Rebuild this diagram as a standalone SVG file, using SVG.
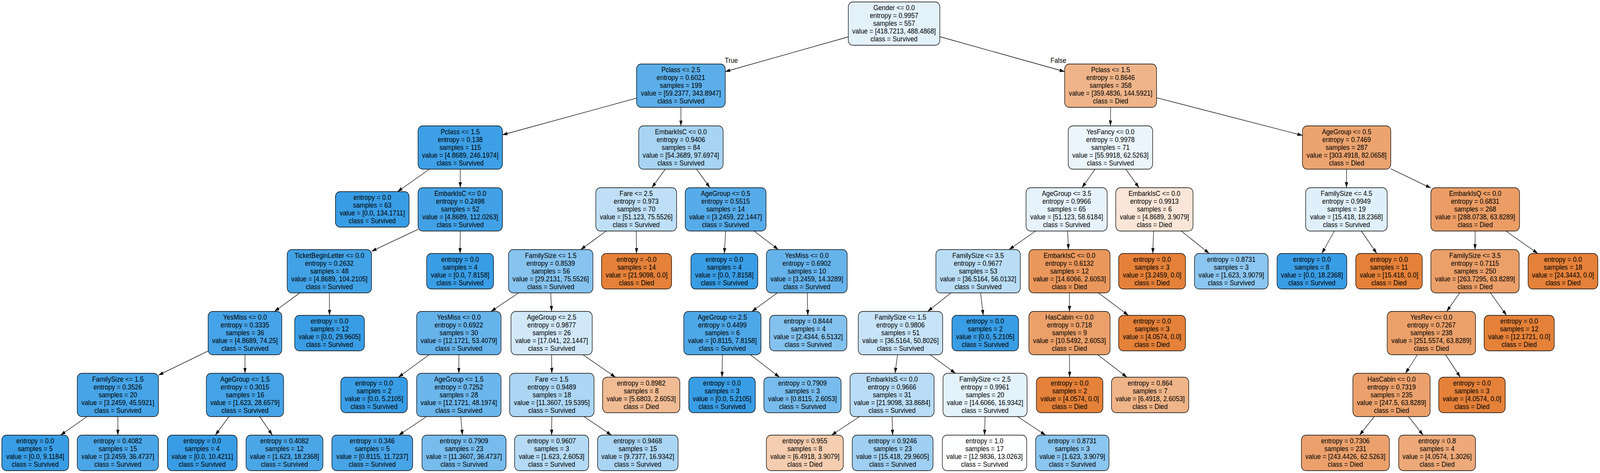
<svg xmlns="http://www.w3.org/2000/svg" width="4474" height="1212" viewBox="0 0 4474 1212" preserveAspectRatio="none" style="width:100%;height:100%">
<style>
.n rect{stroke:#000;stroke-width:1.4}
text{font-family:"Liberation Sans",Helvetica,Arial,sans-serif;font-size:18px;text-anchor:middle;fill:#000}
.e line{stroke:#000;stroke-width:1.3;marker-end:url(#arr)}
</style>
<defs>
<marker id="arr" markerUnits="userSpaceOnUse" markerWidth="14" markerHeight="9" refX="14" refY="4.5" orient="auto"><path d="M0,0 L14,4.5 L0,9 z" fill="#000"/></marker>
</defs>
<rect width="4474" height="1212" fill="#fff"/>
<g id="edges" class="e">
<line x1="2372" y1="94.5" x2="2028" y2="183.5"/>
<line x1="2628" y1="94" x2="2977" y2="183.5"/>
<line x1="1780" y1="251.4" x2="1405" y2="345.5"/>
<line x1="1904" y1="275" x2="1904" y2="322.5"/>
<line x1="1200.9" y1="433.5" x2="1111.6" y2="491"/>
<line x1="1287" y1="433.5" x2="1287" y2="481"/>
<line x1="1169" y1="587.6" x2="1039" y2="643.9"/>
<line x1="1287" y1="592" x2="1286.5" y2="649.5"/>
<line x1="838.4" y1="750.5" x2="767.6" y2="798"/>
<line x1="921" y1="750.5" x2="921.5" y2="808"/>
<line x1="582" y1="899.4" x2="443" y2="961.4"/>
<line x1="685" y1="909" x2="685" y2="956.5"/>
<line x1="243.2" y1="1067.5" x2="169.3" y2="1115"/>
<line x1="329.5" y1="1067.5" x2="329.5" y2="1115"/>
<line x1="640.3" y1="1067.5" x2="602.1" y2="1115"/>
<line x1="726.3" y1="1067.5" x2="761.6" y2="1115"/>
<line x1="1860.2" y1="433.5" x2="1822.8" y2="481"/>
<line x1="1947.8" y1="433.5" x2="1985.2" y2="481"/>
<line x1="1695.3" y1="592" x2="1623.7" y2="639.5"/>
<line x1="1779" y1="592" x2="1780" y2="649.5"/>
<line x1="1450" y1="750.5" x2="1373" y2="798"/>
<line x1="1540" y1="750.5" x2="1542.5" y2="798"/>
<line x1="1200" y1="909" x2="1114" y2="966.5"/>
<line x1="1283" y1="909" x2="1283" y2="956.5"/>
<line x1="1192.6" y1="1067.5" x2="1115.1" y2="1115"/>
<line x1="1288.4" y1="1067.5" x2="1293.1" y2="1115"/>
<line x1="1542.5" y1="909" x2="1543" y2="956.5"/>
<line x1="1630.2" y1="909" x2="1721.1" y2="966.5"/>
<line x1="1543" y1="1067.5" x2="1542.5" y2="1115"/>
<line x1="1632.9" y1="1067.5" x2="1709.8" y2="1115"/>
<line x1="2029" y1="592" x2="2025.5" y2="649.5"/>
<line x1="2108.5" y1="592" x2="2176.5" y2="639.5"/>
<line x1="2173.4" y1="750.5" x2="2102.6" y2="798"/>
<line x1="2257.4" y1="750.5" x2="2258.9" y2="808"/>
<line x1="2020" y1="909" x2="2019" y2="966.5"/>
<line x1="2098.4" y1="909" x2="2179.7" y2="966.5"/>
<line x1="3105.5" y1="275" x2="3105" y2="322.5"/>
<line x1="3234" y1="250.4" x2="3642" y2="347"/>
<line x1="3062.1" y1="433.5" x2="3025.4" y2="481"/>
<line x1="3148.1" y1="433.5" x2="3184.9" y2="481"/>
<line x1="2895.8" y1="592" x2="2821.7" y2="639.5"/>
<line x1="2985.3" y1="592" x2="2987.7" y2="639.5"/>
<line x1="2659" y1="750.5" x2="2594" y2="798"/>
<line x1="2742" y1="750.5" x2="2749.3" y2="808"/>
<line x1="2509.8" y1="909" x2="2502.7" y2="956.5"/>
<line x1="2600.8" y1="909" x2="2671.7" y2="956.5"/>
<line x1="2403.3" y1="1067.5" x2="2325.3" y2="1115"/>
<line x1="2494.5" y1="1067.5" x2="2496" y2="1115"/>
<line x1="2754.5" y1="1067.5" x2="2753" y2="1115"/>
<line x1="2845.7" y1="1067.5" x2="2923.7" y2="1115"/>
<line x1="2990.5" y1="750.5" x2="2990.5" y2="798"/>
<line x1="3071.4" y1="750.5" x2="3155.2" y2="808"/>
<line x1="2990.5" y1="909" x2="2991" y2="966.5"/>
<line x1="3069.5" y1="909" x2="3151.3" y2="966.5"/>
<line x1="3225.7" y1="592" x2="3223.4" y2="649.5"/>
<line x1="3303.3" y1="592" x2="3381.3" y2="649.5"/>
<line x1="3765.5" y1="433.5" x2="3765" y2="481"/>
<line x1="3889" y1="432.4" x2="4001" y2="481.8"/>
<line x1="3731.2" y1="592" x2="3696.2" y2="649.5"/>
<line x1="3806.7" y1="592" x2="3849.8" y2="649.5"/>
<line x1="4125" y1="592" x2="4124.5" y2="639.5"/>
<line x1="4211" y1="592" x2="4300" y2="649.5"/>
<line x1="4081.8" y1="750.5" x2="4045.2" y2="798"/>
<line x1="4167.7" y1="750.5" x2="4212.5" y2="808"/>
<line x1="3963.5" y1="909" x2="3930" y2="956.5"/>
<line x1="4042.2" y1="909" x2="4083.4" y2="966.5"/>
<line x1="3842.8" y1="1067.5" x2="3801.5" y2="1115"/>
<line x1="3938.7" y1="1067.5" x2="3979.4" y2="1115"/>
<text x="2045" y="161.5">True</text>
<text x="2959.5" y="161">False</text>
</g>
<g id="n0" class="n"><rect x="2372" y="5" width="256" height="111" rx="13" fill="#e3f1fb"/><text x="2500" y="26.5"><tspan x="2500">Gender &lt;= 0.0</tspan><tspan x="2500" dy="20">entropy = 0.9957</tspan><tspan x="2500" dy="20">samples = 557</tspan><tspan x="2500" dy="20">value = [418.7213, 488.4868]</tspan><tspan x="2500" dy="20">class = Survived</tspan></text></g>
<g id="n1" class="n"><rect x="1780" y="164" width="248" height="111" rx="13" fill="#5baee9"/><text x="1904" y="185.5"><tspan x="1904">Pclass &lt;= 2.5</tspan><tspan x="1904" dy="20">entropy = 0.6021</tspan><tspan x="1904" dy="20">samples = 199</tspan><tspan x="1904" dy="20">value = [59.2377, 343.8947]</tspan><tspan x="1904" dy="20">class = Survived</tspan></text></g>
<g id="n2" class="n"><rect x="1169" y="322.5" width="236" height="111" rx="13" fill="#3d9fe6"/><text x="1287" y="344"><tspan x="1287">Pclass &lt;= 1.5</tspan><tspan x="1287" dy="20">entropy = 0.138</tspan><tspan x="1287" dy="20">samples = 115</tspan><tspan x="1287" dy="20">value = [4.8689, 246.1974]</tspan><tspan x="1287" dy="20">class = Survived</tspan></text></g>
<g id="n3" class="n"><rect x="938" y="491" width="206" height="91" rx="13" fill="#399de5"/><text x="1041" y="512.5"><tspan x="1041">entropy = 0.0</tspan><tspan x="1041" dy="20">samples = 63</tspan><tspan x="1041" dy="20">value = [0.0, 134.1711]</tspan><tspan x="1041" dy="20">class = Survived</tspan></text></g>
<g id="n4" class="n"><rect x="1169" y="481" width="236" height="111" rx="13" fill="#42a1e6"/><text x="1287" y="502.5"><tspan x="1287">EmbarkIsC &lt;= 0.0</tspan><tspan x="1287" dy="20">entropy = 0.2498</tspan><tspan x="1287" dy="20">samples = 52</tspan><tspan x="1287" dy="20">value = [4.8689, 112.0263]</tspan><tspan x="1287" dy="20">class = Survived</tspan></text></g>
<g id="n5" class="n"><rect x="803" y="639.5" width="236" height="111" rx="13" fill="#42a2e6"/><text x="921" y="661"><tspan x="921">TicketBeginLetter &lt;= 0.0</tspan><tspan x="921" dy="20">entropy = 0.2632</tspan><tspan x="921" dy="20">samples = 48</tspan><tspan x="921" dy="20">value = [4.8689, 104.2105]</tspan><tspan x="921" dy="20">class = Survived</tspan></text></g>
<g id="n6" class="n"><rect x="582" y="798" width="206" height="111" rx="13" fill="#46a3e7"/><text x="685" y="819.5"><tspan x="685">YesMiss &lt;= 0.0</tspan><tspan x="685" dy="20">entropy = 0.3335</tspan><tspan x="685" dy="20">samples = 36</tspan><tspan x="685" dy="20">value = [4.8689, 74.25]</tspan><tspan x="685" dy="20">class = Survived</tspan></text></g>
<g id="n7" class="n"><rect x="216" y="956.5" width="227" height="111" rx="13" fill="#47a4e7"/><text x="329.5" y="978"><tspan x="329.5">FamilySize &lt;= 1.5</tspan><tspan x="329.5" dy="20">entropy = 0.3526</tspan><tspan x="329.5" dy="20">samples = 20</tspan><tspan x="329.5" dy="20">value = [3.2459, 45.5921]</tspan><tspan x="329.5" dy="20">class = Survived</tspan></text></g>
<g id="n8" class="n"><rect x="5" y="1115" width="187" height="91" rx="13" fill="#399de5"/><text x="98.5" y="1136.5"><tspan x="98.5">entropy = 0.0</tspan><tspan x="98.5" dy="20">samples = 5</tspan><tspan x="98.5" dy="20">value = [0.0, 9.1184]</tspan><tspan x="98.5" dy="20">class = Survived</tspan></text></g>
<g id="n9" class="n"><rect x="216" y="1115" width="227" height="91" rx="13" fill="#4ba6e7"/><text x="329.5" y="1136.5"><tspan x="329.5">entropy = 0.4082</tspan><tspan x="329.5" dy="20">samples = 15</tspan><tspan x="329.5" dy="20">value = [3.2459, 36.4737]</tspan><tspan x="329.5" dy="20">class = Survived</tspan></text></g>
<g id="n10" class="n"><rect x="577" y="956.5" width="216" height="111" rx="13" fill="#44a3e6"/><text x="685" y="978"><tspan x="685">AgeGroup &lt;= 1.5</tspan><tspan x="685" dy="20">entropy = 0.3015</tspan><tspan x="685" dy="20">samples = 16</tspan><tspan x="685" dy="20">value = [1.623, 28.6579]</tspan><tspan x="685" dy="20">class = Survived</tspan></text></g>
<g id="n11" class="n"><rect x="468" y="1115" width="195" height="91" rx="13" fill="#399de5"/><text x="565.5" y="1136.5"><tspan x="565.5">entropy = 0.0</tspan><tspan x="565.5" dy="20">samples = 4</tspan><tspan x="565.5" dy="20">value = [0.0, 10.4211]</tspan><tspan x="565.5" dy="20">class = Survived</tspan></text></g>
<g id="n12" class="n"><rect x="688" y="1115" width="215" height="91" rx="13" fill="#4ba6e7"/><text x="795.5" y="1136.5"><tspan x="795.5">entropy = 0.4082</tspan><tspan x="795.5" dy="20">samples = 12</tspan><tspan x="795.5" dy="20">value = [1.623, 18.2368]</tspan><tspan x="795.5" dy="20">class = Survived</tspan></text></g>
<g id="n13" class="n"><rect x="824" y="808" width="195" height="91" rx="13" fill="#399de5"/><text x="921.5" y="829.5"><tspan x="921.5">entropy = 0.0</tspan><tspan x="921.5" dy="20">samples = 12</tspan><tspan x="921.5" dy="20">value = [0.0, 29.9605]</tspan><tspan x="921.5" dy="20">class = Survived</tspan></text></g>
<g id="n14" class="n"><rect x="1193" y="649.5" width="187" height="91" rx="13" fill="#399de5"/><text x="1286.5" y="671"><tspan x="1286.5">entropy = 0.0</tspan><tspan x="1286.5" dy="20">samples = 4</tspan><tspan x="1286.5" dy="20">value = [0.0, 7.8158]</tspan><tspan x="1286.5" dy="20">class = Survived</tspan></text></g>
<g id="n15" class="n"><rect x="1786" y="322.5" width="236" height="111" rx="13" fill="#a7d4f3"/><text x="1904" y="344"><tspan x="1904">EmbarkIsC &lt;= 0.0</tspan><tspan x="1904" dy="20">entropy = 0.9406</tspan><tspan x="1904" dy="20">samples = 84</tspan><tspan x="1904" dy="20">value = [54.3689, 97.6974]</tspan><tspan x="1904" dy="20">class = Survived</tspan></text></g>
<g id="n16" class="n"><rect x="1666" y="481" width="226" height="111" rx="13" fill="#bfdff7"/><text x="1779" y="502.5"><tspan x="1779">Fare &lt;= 2.5</tspan><tspan x="1779" dy="20">entropy = 0.973</tspan><tspan x="1779" dy="20">samples = 70</tspan><tspan x="1779" dy="20">value = [51.123, 75.5526]</tspan><tspan x="1779" dy="20">class = Survived</tspan></text></g>
<g id="n17" class="n"><rect x="1422" y="639.5" width="236" height="111" rx="13" fill="#86c3ef"/><text x="1540" y="661"><tspan x="1540">FamilySize &lt;= 1.5</tspan><tspan x="1540" dy="20">entropy = 0.8539</tspan><tspan x="1540" dy="20">samples = 56</tspan><tspan x="1540" dy="20">value = [29.2131, 75.5526]</tspan><tspan x="1540" dy="20">class = Survived</tspan></text></g>
<g id="n18" class="n"><rect x="1165" y="798" width="236" height="111" rx="13" fill="#66b3eb"/><text x="1283" y="819.5"><tspan x="1283">YesMiss &lt;= 0.0</tspan><tspan x="1283" dy="20">entropy = 0.6922</tspan><tspan x="1283" dy="20">samples = 30</tspan><tspan x="1283" dy="20">value = [12.1721, 53.4079]</tspan><tspan x="1283" dy="20">class = Survived</tspan></text></g>
<g id="n19" class="n"><rect x="953" y="966.5" width="186" height="91" rx="13" fill="#399de5"/><text x="1046" y="988"><tspan x="1046">entropy = 0.0</tspan><tspan x="1046" dy="20">samples = 2</tspan><tspan x="1046" dy="20">value = [0.0, 5.2105]</tspan><tspan x="1046" dy="20">class = Survived</tspan></text></g>
<g id="n20" class="n"><rect x="1165" y="956.5" width="236" height="111" rx="13" fill="#6bb6ec"/><text x="1283" y="978"><tspan x="1283">AgeGroup &lt;= 1.5</tspan><tspan x="1283" dy="20">entropy = 0.7252</tspan><tspan x="1283" dy="20">samples = 28</tspan><tspan x="1283" dy="20">value = [12.1721, 48.1974]</tspan><tspan x="1283" dy="20">class = Survived</tspan></text></g>
<g id="n21" class="n"><rect x="928" y="1115" width="226" height="91" rx="13" fill="#47a4e7"/><text x="1041" y="1136.5"><tspan x="1041">entropy = 0.346</tspan><tspan x="1041" dy="20">samples = 5</tspan><tspan x="1041" dy="20">value = [0.8115, 11.7237]</tspan><tspan x="1041" dy="20">class = Survived</tspan></text></g>
<g id="n22" class="n"><rect x="1180" y="1115" width="235" height="91" rx="13" fill="#77bced"/><text x="1297.5" y="1136.5"><tspan x="1297.5">entropy = 0.7909</tspan><tspan x="1297.5" dy="20">samples = 23</tspan><tspan x="1297.5" dy="20">value = [11.3607, 36.4737]</tspan><tspan x="1297.5" dy="20">class = Survived</tspan></text></g>
<g id="n23" class="n"><rect x="1429" y="798" width="227" height="111" rx="13" fill="#d1e8f9"/><text x="1542.5" y="819.5"><tspan x="1542.5">AgeGroup &lt;= 2.5</tspan><tspan x="1542.5" dy="20">entropy = 0.9877</tspan><tspan x="1542.5" dy="20">samples = 26</tspan><tspan x="1542.5" dy="20">value = [17.041, 22.1447]</tspan><tspan x="1542.5" dy="20">class = Survived</tspan></text></g>
<g id="n24" class="n"><rect x="1425" y="956.5" width="236" height="111" rx="13" fill="#acd6f4"/><text x="1543" y="978"><tspan x="1543">Fare &lt;= 1.5</tspan><tspan x="1543" dy="20">entropy = 0.9489</tspan><tspan x="1543" dy="20">samples = 18</tspan><tspan x="1543" dy="20">value = [11.3607, 19.5395]</tspan><tspan x="1543" dy="20">class = Survived</tspan></text></g>
<g id="n25" class="n"><rect x="1439" y="1115" width="207" height="91" rx="13" fill="#b4daf5"/><text x="1542.5" y="1136.5"><tspan x="1542.5">entropy = 0.9607</tspan><tspan x="1542.5" dy="20">samples = 3</tspan><tspan x="1542.5" dy="20">value = [1.623, 2.6053]</tspan><tspan x="1542.5" dy="20">class = Survived</tspan></text></g>
<g id="n26" class="n"><rect x="1671" y="1115" width="225" height="91" rx="13" fill="#abd5f4"/><text x="1783.5" y="1136.5"><tspan x="1783.5">entropy = 0.9468</tspan><tspan x="1783.5" dy="20">samples = 15</tspan><tspan x="1783.5" dy="20">value = [9.7377, 16.9342]</tspan><tspan x="1783.5" dy="20">class = Survived</tspan></text></g>
<g id="n27" class="n"><rect x="1685" y="966.5" width="216" height="91" rx="13" fill="#f1bb94"/><text x="1793" y="988"><tspan x="1793">entropy = 0.8982</tspan><tspan x="1793" dy="20">samples = 8</tspan><tspan x="1793" dy="20">value = [5.6803, 2.6053]</tspan><tspan x="1793" dy="20">class = Died</tspan></text></g>
<g id="n28" class="n"><rect x="1682" y="649.5" width="196" height="91" rx="13" fill="#e58139"/><text x="1780" y="671"><tspan x="1780">entropy = -0.0</tspan><tspan x="1780" dy="20">samples = 14</tspan><tspan x="1780" dy="20">value = [21.9098, 0.0]</tspan><tspan x="1780" dy="20">class = Died</tspan></text></g>
<g id="n29" class="n"><rect x="1916" y="481" width="226" height="111" rx="13" fill="#56abe9"/><text x="2029" y="502.5"><tspan x="2029">AgeGroup &lt;= 0.5</tspan><tspan x="2029" dy="20">entropy = 0.5515</tspan><tspan x="2029" dy="20">samples = 14</tspan><tspan x="2029" dy="20">value = [3.2459, 22.1447]</tspan><tspan x="2029" dy="20">class = Survived</tspan></text></g>
<g id="n30" class="n"><rect x="1932" y="649.5" width="187" height="91" rx="13" fill="#399de5"/><text x="2025.5" y="671"><tspan x="2025.5">entropy = 0.0</tspan><tspan x="2025.5" dy="20">samples = 4</tspan><tspan x="2025.5" dy="20">value = [0.0, 7.8158]</tspan><tspan x="2025.5" dy="20">class = Survived</tspan></text></g>
<g id="n31" class="n"><rect x="2143" y="639.5" width="226" height="111" rx="13" fill="#66b3eb"/><text x="2256" y="661"><tspan x="2256">YesMiss &lt;= 0.0</tspan><tspan x="2256" dy="20">entropy = 0.6902</tspan><tspan x="2256" dy="20">samples = 10</tspan><tspan x="2256" dy="20">value = [3.2459, 14.3289]</tspan><tspan x="2256" dy="20">class = Survived</tspan></text></g>
<g id="n32" class="n"><rect x="1912" y="798" width="216" height="111" rx="13" fill="#4ea7e8"/><text x="2020" y="819.5"><tspan x="2020">AgeGroup &lt;= 2.5</tspan><tspan x="2020" dy="20">entropy = 0.4499</tspan><tspan x="2020" dy="20">samples = 6</tspan><tspan x="2020" dy="20">value = [0.8115, 7.8158]</tspan><tspan x="2020" dy="20">class = Survived</tspan></text></g>
<g id="n33" class="n"><rect x="1926" y="966.5" width="186" height="91" rx="13" fill="#399de5"/><text x="2019" y="988"><tspan x="2019">entropy = 0.0</tspan><tspan x="2019" dy="20">samples = 3</tspan><tspan x="2019" dy="20">value = [0.0, 5.2105]</tspan><tspan x="2019" dy="20">class = Survived</tspan></text></g>
<g id="n34" class="n"><rect x="2136" y="966.5" width="216" height="91" rx="13" fill="#77bced"/><text x="2244" y="988"><tspan x="2244">entropy = 0.7909</tspan><tspan x="2244" dy="20">samples = 3</tspan><tspan x="2244" dy="20">value = [0.8115, 2.6053]</tspan><tspan x="2244" dy="20">class = Survived</tspan></text></g>
<g id="n35" class="n"><rect x="2152" y="808" width="216" height="91" rx="13" fill="#83c2ef"/><text x="2260" y="829.5"><tspan x="2260">entropy = 0.8444</tspan><tspan x="2260" dy="20">samples = 4</tspan><tspan x="2260" dy="20">value = [2.4344, 6.5132]</tspan><tspan x="2260" dy="20">class = Survived</tspan></text></g>
<g id="n36" class="n"><rect x="2977" y="164" width="257" height="111" rx="13" fill="#efb489"/><text x="3105.5" y="185.5"><tspan x="3105.5">Pclass &lt;= 1.5</tspan><tspan x="3105.5" dy="20">entropy = 0.8646</tspan><tspan x="3105.5" dy="20">samples = 358</tspan><tspan x="3105.5" dy="20">value = [359.4836, 144.5921]</tspan><tspan x="3105.5" dy="20">class = Died</tspan></text></g>
<g id="n37" class="n"><rect x="2987" y="322.5" width="236" height="111" rx="13" fill="#eaf5fc"/><text x="3105" y="344"><tspan x="3105">YesFancy &lt;= 0.0</tspan><tspan x="3105" dy="20">entropy = 0.9978</tspan><tspan x="3105" dy="20">samples = 71</tspan><tspan x="3105" dy="20">value = [55.9918, 62.5263]</tspan><tspan x="3105" dy="20">class = Survived</tspan></text></g>
<g id="n38" class="n"><rect x="2869" y="481" width="227" height="111" rx="13" fill="#e6f2fc"/><text x="2982.5" y="502.5"><tspan x="2982.5">AgeGroup &lt;= 3.5</tspan><tspan x="2982.5" dy="20">entropy = 0.9966</tspan><tspan x="2982.5" dy="20">samples = 65</tspan><tspan x="2982.5" dy="20">value = [51.123, 58.6184]</tspan><tspan x="2982.5" dy="20">class = Survived</tspan></text></g>
<g id="n39" class="n"><rect x="2617" y="639.5" width="236" height="111" rx="13" fill="#baddf6"/><text x="2735" y="661"><tspan x="2735">FamilySize &lt;= 3.5</tspan><tspan x="2735" dy="20">entropy = 0.9677</tspan><tspan x="2735" dy="20">samples = 53</tspan><tspan x="2735" dy="20">value = [36.5164, 56.0132]</tspan><tspan x="2735" dy="20">class = Survived</tspan></text></g>
<g id="n40" class="n"><rect x="2400" y="798" width="236" height="111" rx="13" fill="#c7e3f8"/><text x="2518" y="819.5"><tspan x="2518">FamilySize &lt;= 1.5</tspan><tspan x="2518" dy="20">entropy = 0.9806</tspan><tspan x="2518" dy="20">samples = 51</tspan><tspan x="2518" dy="20">value = [36.5164, 50.8026]</tspan><tspan x="2518" dy="20">class = Survived</tspan></text></g>
<g id="n41" class="n"><rect x="2377" y="956.5" width="235" height="111" rx="13" fill="#b9dcf6"/><text x="2494.5" y="978"><tspan x="2494.5">EmbarkIsS &lt;= 0.0</tspan><tspan x="2494.5" dy="20">entropy = 0.9666</tspan><tspan x="2494.5" dy="20">samples = 31</tspan><tspan x="2494.5" dy="20">value = [21.9098, 33.8684]</tspan><tspan x="2494.5" dy="20">class = Survived</tspan></text></g>
<g id="n42" class="n"><rect x="2143" y="1115" width="215" height="91" rx="13" fill="#f5cdb0"/><text x="2250.5" y="1136.5"><tspan x="2250.5">entropy = 0.955</tspan><tspan x="2250.5" dy="20">samples = 8</tspan><tspan x="2250.5" dy="20">value = [6.4918, 3.9079]</tspan><tspan x="2250.5" dy="20">class = Died</tspan></text></g>
<g id="n43" class="n"><rect x="2383" y="1115" width="226" height="91" rx="13" fill="#9fcff2"/><text x="2496" y="1136.5"><tspan x="2496">entropy = 0.9246</tspan><tspan x="2496" dy="20">samples = 23</tspan><tspan x="2496" dy="20">value = [15.418, 29.9605]</tspan><tspan x="2496" dy="20">class = Survived</tspan></text></g>
<g id="n44" class="n"><rect x="2637" y="956.5" width="235" height="111" rx="13" fill="#e4f2fb"/><text x="2754.5" y="978"><tspan x="2754.5">FamilySize &lt;= 2.5</tspan><tspan x="2754.5" dy="20">entropy = 0.9961</tspan><tspan x="2754.5" dy="20">samples = 20</tspan><tspan x="2754.5" dy="20">value = [14.6066, 16.9342]</tspan><tspan x="2754.5" dy="20">class = Survived</tspan></text></g>
<g id="n45" class="n"><rect x="2635" y="1115" width="236" height="91" rx="13" fill="#feffff"/><text x="2753" y="1136.5"><tspan x="2753">entropy = 1.0</tspan><tspan x="2753" dy="20">samples = 17</tspan><tspan x="2753" dy="20">value = [12.9836, 13.0263]</tspan><tspan x="2753" dy="20">class = Survived</tspan></text></g>
<g id="n46" class="n"><rect x="2896" y="1115" width="205" height="91" rx="13" fill="#8bc6f0"/><text x="2998.5" y="1136.5"><tspan x="2998.5">entropy = 0.8731</tspan><tspan x="2998.5" dy="20">samples = 3</tspan><tspan x="2998.5" dy="20">value = [1.623, 3.9079]</tspan><tspan x="2998.5" dy="20">class = Survived</tspan></text></g>
<g id="n47" class="n"><rect x="2662" y="808" width="186" height="91" rx="13" fill="#399de5"/><text x="2755" y="829.5"><tspan x="2755">entropy = 0.0</tspan><tspan x="2755" dy="20">samples = 2</tspan><tspan x="2755" dy="20">value = [0.0, 5.2105]</tspan><tspan x="2755" dy="20">class = Survived</tspan></text></g>
<g id="n48" class="n"><rect x="2877" y="639.5" width="227" height="111" rx="13" fill="#ea975c"/><text x="2990.5" y="661"><tspan x="2990.5">EmbarkIsC &lt;= 0.0</tspan><tspan x="2990.5" dy="20">entropy = 0.6132</tspan><tspan x="2990.5" dy="20">samples = 12</tspan><tspan x="2990.5" dy="20">value = [14.6066, 2.6053]</tspan><tspan x="2990.5" dy="20">class = Died</tspan></text></g>
<g id="n49" class="n"><rect x="2877" y="798" width="227" height="111" rx="13" fill="#eba06a"/><text x="2990.5" y="819.5"><tspan x="2990.5">HasCabin &lt;= 0.0</tspan><tspan x="2990.5" dy="20">entropy = 0.718</tspan><tspan x="2990.5" dy="20">samples = 9</tspan><tspan x="2990.5" dy="20">value = [10.5492, 2.6053]</tspan><tspan x="2990.5" dy="20">class = Died</tspan></text></g>
<g id="n50" class="n"><rect x="2898" y="966.5" width="186" height="91" rx="13" fill="#e58139"/><text x="2991" y="988"><tspan x="2991">entropy = 0.0</tspan><tspan x="2991" dy="20">samples = 2</tspan><tspan x="2991" dy="20">value = [4.0574, 0.0]</tspan><tspan x="2991" dy="20">class = Died</tspan></text></g>
<g id="n51" class="n"><rect x="3108" y="966.5" width="216" height="91" rx="13" fill="#efb488"/><text x="3216" y="988"><tspan x="3216">entropy = 0.864</tspan><tspan x="3216" dy="20">samples = 7</tspan><tspan x="3216" dy="20">value = [6.4918, 2.6053]</tspan><tspan x="3216" dy="20">class = Died</tspan></text></g>
<g id="n52" class="n"><rect x="3128" y="808" width="187" height="91" rx="13" fill="#e58139"/><text x="3221.5" y="829.5"><tspan x="3221.5">entropy = 0.0</tspan><tspan x="3221.5" dy="20">samples = 3</tspan><tspan x="3221.5" dy="20">value = [4.0574, 0.0]</tspan><tspan x="3221.5" dy="20">class = Died</tspan></text></g>
<g id="n53" class="n"><rect x="3120" y="481" width="216" height="111" rx="13" fill="#fae6d8"/><text x="3228" y="502.5"><tspan x="3228">EmbarkIsC &lt;= 0.0</tspan><tspan x="3228" dy="20">entropy = 0.9913</tspan><tspan x="3228" dy="20">samples = 6</tspan><tspan x="3228" dy="20">value = [4.8689, 3.9079]</tspan><tspan x="3228" dy="20">class = Died</tspan></text></g>
<g id="n54" class="n"><rect x="3128" y="649.5" width="187" height="91" rx="13" fill="#e58139"/><text x="3221.5" y="671"><tspan x="3221.5">entropy = 0.0</tspan><tspan x="3221.5" dy="20">samples = 3</tspan><tspan x="3221.5" dy="20">value = [3.2459, 0.0]</tspan><tspan x="3221.5" dy="20">class = Died</tspan></text></g>
<g id="n55" class="n"><rect x="3340" y="649.5" width="206" height="91" rx="13" fill="#8bc6f0"/><text x="3443" y="671"><tspan x="3443">entropy = 0.8731</tspan><tspan x="3443" dy="20">samples = 3</tspan><tspan x="3443" dy="20">value = [1.623, 3.9079]</tspan><tspan x="3443" dy="20">class = Survived</tspan></text></g>
<g id="n56" class="n"><rect x="3642" y="322.5" width="247" height="111" rx="13" fill="#eca36f"/><text x="3765.5" y="344"><tspan x="3765.5">AgeGroup &lt;= 0.5</tspan><tspan x="3765.5" dy="20">entropy = 0.7469</tspan><tspan x="3765.5" dy="20">samples = 287</tspan><tspan x="3765.5" dy="20">value = [303.4918, 82.0658]</tspan><tspan x="3765.5" dy="20">class = Died</tspan></text></g>
<g id="n57" class="n"><rect x="3651" y="481" width="228" height="111" rx="13" fill="#e0f0fb"/><text x="3765" y="502.5"><tspan x="3765">FamilySize &lt;= 4.5</tspan><tspan x="3765" dy="20">entropy = 0.9949</tspan><tspan x="3765" dy="20">samples = 19</tspan><tspan x="3765" dy="20">value = [15.418, 18.2368]</tspan><tspan x="3765" dy="20">class = Survived</tspan></text></g>
<g id="n58" class="n"><rect x="3571" y="649.5" width="195" height="91" rx="13" fill="#399de5"/><text x="3668.5" y="671"><tspan x="3668.5">entropy = 0.0</tspan><tspan x="3668.5" dy="20">samples = 8</tspan><tspan x="3668.5" dy="20">value = [0.0, 18.2368]</tspan><tspan x="3668.5" dy="20">class = Survived</tspan></text></g>
<g id="n59" class="n"><rect x="3791" y="649.5" width="186" height="91" rx="13" fill="#e58139"/><text x="3884" y="671"><tspan x="3884">entropy = 0.0</tspan><tspan x="3884" dy="20">samples = 11</tspan><tspan x="3884" dy="20">value = [15.418, 0.0]</tspan><tspan x="3884" dy="20">class = Died</tspan></text></g>
<g id="n60" class="n"><rect x="4001" y="481" width="248" height="111" rx="13" fill="#eb9d65"/><text x="4125" y="502.5"><tspan x="4125">EmbarkIsQ &lt;= 0.0</tspan><tspan x="4125" dy="20">entropy = 0.6831</tspan><tspan x="4125" dy="20">samples = 268</tspan><tspan x="4125" dy="20">value = [288.0738, 63.8289]</tspan><tspan x="4125" dy="20">class = Died</tspan></text></g>
<g id="n61" class="n"><rect x="4001" y="639.5" width="247" height="111" rx="13" fill="#eb9f69"/><text x="4124.5" y="661"><tspan x="4124.5">FamilySize &lt;= 3.5</tspan><tspan x="4124.5" dy="20">entropy = 0.7115</tspan><tspan x="4124.5" dy="20">samples = 250</tspan><tspan x="4124.5" dy="20">value = [263.7295, 63.8289]</tspan><tspan x="4124.5" dy="20">class = Died</tspan></text></g>
<g id="n62" class="n"><rect x="3879" y="798" width="247" height="111" rx="13" fill="#eca16b"/><text x="4002.5" y="819.5"><tspan x="4002.5">YesRev &lt;= 0.0</tspan><tspan x="4002.5" dy="20">entropy = 0.7267</tspan><tspan x="4002.5" dy="20">samples = 238</tspan><tspan x="4002.5" dy="20">value = [251.5574, 63.8289]</tspan><tspan x="4002.5" dy="20">class = Died</tspan></text></g>
<g id="n63" class="n"><rect x="3783" y="956.5" width="216" height="111" rx="13" fill="#eca16c"/><text x="3891" y="978"><tspan x="3891">HasCabin &lt;= 0.0</tspan><tspan x="3891" dy="20">entropy = 0.7319</tspan><tspan x="3891" dy="20">samples = 235</tspan><tspan x="3891" dy="20">value = [247.5, 63.8289]</tspan><tspan x="3891" dy="20">class = Died</tspan></text></g>
<g id="n64" class="n"><rect x="3639" y="1115" width="246" height="91" rx="13" fill="#eca16c"/><text x="3762" y="1136.5"><tspan x="3762">entropy = 0.7306</tspan><tspan x="3762" dy="20">samples = 231</tspan><tspan x="3762" dy="20">value = [243.4426, 62.5263]</tspan><tspan x="3762" dy="20">class = Died</tspan></text></g>
<g id="n65" class="n"><rect x="3911" y="1115" width="215" height="91" rx="13" fill="#eda979"/><text x="4018.5" y="1136.5"><tspan x="4018.5">entropy = 0.8</tspan><tspan x="4018.5" dy="20">samples = 4</tspan><tspan x="4018.5" dy="20">value = [4.0574, 1.3026]</tspan><tspan x="4018.5" dy="20">class = Died</tspan></text></g>
<g id="n66" class="n"><rect x="4023" y="966.5" width="186" height="91" rx="13" fill="#e58139"/><text x="4116" y="988"><tspan x="4116">entropy = 0.0</tspan><tspan x="4116" dy="20">samples = 3</tspan><tspan x="4116" dy="20">value = [4.0574, 0.0]</tspan><tspan x="4116" dy="20">class = Died</tspan></text></g>
<g id="n67" class="n"><rect x="4150" y="808" width="196" height="91" rx="13" fill="#e58139"/><text x="4248" y="829.5"><tspan x="4248">entropy = 0.0</tspan><tspan x="4248" dy="20">samples = 12</tspan><tspan x="4248" dy="20">value = [12.1721, 0.0]</tspan><tspan x="4248" dy="20">class = Died</tspan></text></g>
<g id="n68" class="n"><rect x="4273" y="649.5" width="195" height="91" rx="13" fill="#e58139"/><text x="4370.5" y="671"><tspan x="4370.5">entropy = 0.0</tspan><tspan x="4370.5" dy="20">samples = 18</tspan><tspan x="4370.5" dy="20">value = [24.3443, 0.0]</tspan><tspan x="4370.5" dy="20">class = Died</tspan></text></g>
</svg>
